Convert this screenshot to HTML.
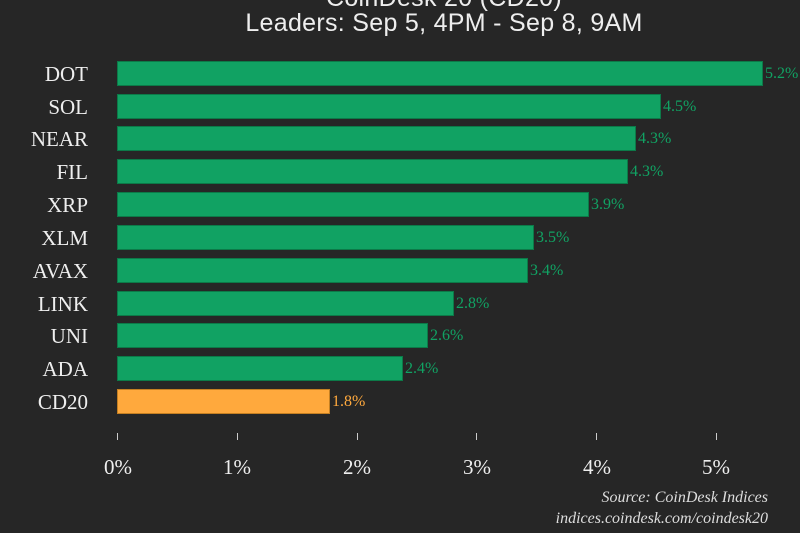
<!DOCTYPE html>
<html><head><meta charset="utf-8"><style>
body{margin:0;width:800px;height:533px;background:#262626;overflow:hidden;position:relative;font-family:"Liberation Serif",serif;}
.t{position:absolute;left:44px;width:800px;text-align:center;color:#eee;font-family:"Liberation Sans",sans-serif;font-size:25px;letter-spacing:0.3px;}
.lab{position:absolute;right:712px;color:#eee;font-size:21px;line-height:26px;}
.bar{position:absolute;left:117px;height:25px;background:#11a263;border:1px solid #0c7a48;box-sizing:border-box;}
.v{position:absolute;font-size:16px;line-height:26px;color:#11a263;}
.tick{position:absolute;top:433px;width:1px;height:7px;background:#ccc;}
.tl{position:absolute;top:455px;width:60px;margin-left:-30px;text-align:center;color:#eee;font-size:21px;}
.src{position:absolute;right:32px;color:#ddd;font-style:italic;font-size:16px;}
</style></head><body>
<div class="t" style="top:-16px">CoinDesk 20 (CD20)</div>
<div class="t" style="top:9px">Leaders: Sep 5, 4PM - Sep 8, 9AM</div>

<div class="lab" style="top:61px">DOT</div><div class="bar" style="top:61px;width:646px"></div><div class="v" style="top:61px;left:765px">5.2%</div>
<div class="lab" style="top:94px">SOL</div><div class="bar" style="top:94px;width:544px"></div><div class="v" style="top:94px;left:663px">4.5%</div>
<div class="lab" style="top:126px">NEAR</div><div class="bar" style="top:126px;width:519px"></div><div class="v" style="top:126px;left:638px">4.3%</div>
<div class="lab" style="top:159px">FIL</div><div class="bar" style="top:159px;width:511px"></div><div class="v" style="top:159px;left:630px">4.3%</div>
<div class="lab" style="top:192px">XRP</div><div class="bar" style="top:192px;width:472px"></div><div class="v" style="top:192px;left:591px">3.9%</div>
<div class="lab" style="top:225px">XLM</div><div class="bar" style="top:225px;width:417px"></div><div class="v" style="top:225px;left:536px">3.5%</div>
<div class="lab" style="top:258px">AVAX</div><div class="bar" style="top:258px;width:411px"></div><div class="v" style="top:258px;left:530px">3.4%</div>
<div class="lab" style="top:291px">LINK</div><div class="bar" style="top:291px;width:337px"></div><div class="v" style="top:291px;left:456px">2.8%</div>
<div class="lab" style="top:323px">UNI</div><div class="bar" style="top:323px;width:311px"></div><div class="v" style="top:323px;left:430px">2.6%</div>
<div class="lab" style="top:356px">ADA</div><div class="bar" style="top:356px;width:286px"></div><div class="v" style="top:356px;left:405px">2.4%</div>
<div class="lab" style="top:389px">CD20</div><div class="bar" style="top:389px;width:213px;background:#ffa93d;border-color:#c47f22"></div><div class="v" style="top:389px;left:332px;color:#ffa93d">1.8%</div>

<div class="tick" style="left:117px"></div><div class="tick" style="left:237px"></div><div class="tick" style="left:357px"></div><div class="tick" style="left:476px"></div><div class="tick" style="left:596px"></div><div class="tick" style="left:716px"></div>
<div class="tl" style="left:118px">0%</div><div class="tl" style="left:237px">1%</div><div class="tl" style="left:357px">2%</div><div class="tl" style="left:477px">3%</div><div class="tl" style="left:597px">4%</div><div class="tl" style="left:716px">5%</div>

<div class="src" style="top:489px">Source: CoinDesk Indices</div>
<div class="src" style="top:510px">indices.coindesk.com/coindesk20</div>
</body></html>
